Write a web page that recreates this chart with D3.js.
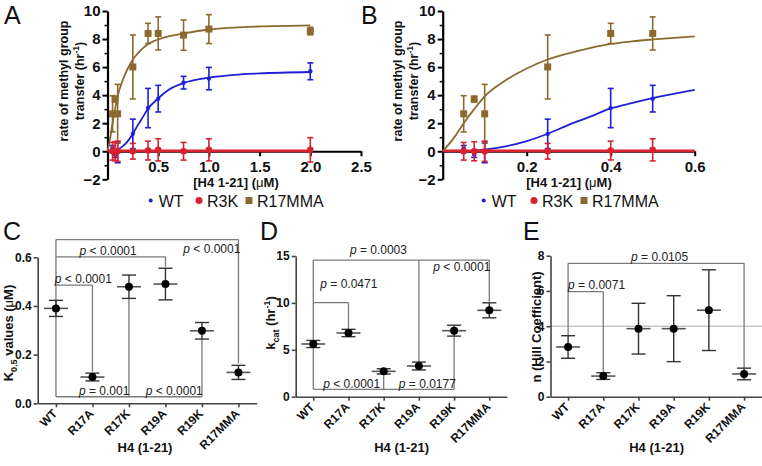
<!DOCTYPE html>
<html><head><meta charset="utf-8">
<script src="https://cdn.jsdelivr.net/npm/d3@7"></script>
<style>
body{margin:0;background:#fff}
svg{display:block;font-family:"Liberation Sans",Arial,Helvetica,sans-serif}
</style>
</head><body>
<svg id="chart" width="762" height="466"></svg>
<script>
// ---------- data: panels A & B ----------
const conc = [0.05, 0.075, 0.1, 0.25, 0.4, 0.5, 0.75, 1.0, 2.0];
const wtRate = [0.21, -0.24, -0.07, 1.24, 3.08, 3.75, 4.89, 5.18, 5.7];
const wtSem = [0.2, 0.2, 0.75, 1.05, 1.4, 0.95, 0.45, 0.8, 0.6];
const r3kRate = [0, 0, 0, 0, 0.05, 0.1, 0, 0.1, 0.1];
const r3kSem = [0.63, 0.68, 0.72, 0.56, 0.67, 0.79, 0.63, 0.79, 0.87];
const mmaRate = [2.67, 3.72, 2.67, 6.01, 8.4, 8.4, 8.28, 8.71, 8.57];
const mmaSem = [1.29, 0.21, 2.1, 2.28, 0.72, 1.18, 1.08, 1.03, 0.27];

// fitted curves
const fitX = [0, 0.025, 0.05, 0.075, 0.1, 0.15, 0.2, 0.25, 0.3, 0.35, 0.4, 0.45, 0.5, 0.6, 0.75, 1.0, 1.25, 1.5, 2.0];
const wtFit = [0, 0, 0.02, 0.05, 0.12, 0.35, 0.72, 1.25, 1.88, 2.45, 3.05, 3.43, 3.78, 4.37, 4.87, 5.25, 5.45, 5.55, 5.65];
const mmaFit = [0, 0.88, 2.0, 3.0, 3.92, 5.06, 5.9, 6.54, 6.98, 7.35, 7.65, 7.83, 7.97, 8.19, 8.4, 8.68, 8.82, 8.9, 8.98];
const r3kFit = [0.03, 0.03, 0.03, 0.03, 0.03, 0.03, 0.03, 0.03, 0.03, 0.03, 0.03, 0.03, 0.03, 0.03, 0.03, 0.03, 0.03, 0.03, 0.03];

const seriesNames = ["WT", "R3K", "R17MMA"];
const seriesColors = ["#1f1fd6", "#d8222f", "#8c6a2f"];

// ---------- data: panels C, D, E ----------
const cats = ["WT", "R17A", "R17K", "R19A", "R19K", "R17MMA"];
const k05 = [0.39, 0.108, 0.479, 0.49, 0.298, 0.127];
const k05Err = [0.033, 0.016, 0.048, 0.065, 0.034, 0.029];
const kcat = [5.62, 6.79, 2.7, 3.27, 7.04, 9.21];
const kcatErr = [0.38, 0.39, 0.28, 0.42, 0.58, 0.8];
const hill = [2.82, 1.17, 3.86, 3.86, 4.91, 1.29];
const hillErr = [0.64, 0.19, 1.44, 1.87, 2.29, 0.33];

// significance brackets: [catIdx1, value1, catIdx2, value2]
const bracketsC = [[0,0.673,5,0.673],[5,0.673,5,0.164],[0,0.673,0,0.027],[0,0.602,3,0.602],[3,0.602,3,0.561],
  [0,0.486,1,0.486],[1,0.486,1,0.13],[0,0.027,4,0.027],[2,0.027,2,0.431],[4,0.027,4,0.264]];
const labelsC = [[4.27,0.618,"< 0.0001"],[1.43,0.611,"< 0.0001"],[0.75,0.495,"< 0.0001"],[1.32,0.036,"= 0.001"],[3.24,0.036,"< 0.0001"]];
const bracketsD = [[0,14.57,5,14.57],[5,14.57,5,10.13],[0,14.57,0,6.04],[3,14.57,3,3.62],[0,10.02,1,10.02],[1,10.02,1,7.19],
  [0,0.79,4,0.79],[0,0.79,0,5.24],[2,0.79,2,2.42],[4,0.79,4,6.46]];
const labelsD = [[1.85,15.26,"= 0.0003"],[4.22,13.35,"< 0.0001"],[1.01,11.6,"= 0.0471"],[1.09,0.98,"< 0.0001"],[3.24,0.98,"= 0.0177"]];
const bracketsE = [[0,7.57,5,7.57],[5,7.57,5,1.62],[0,7.57,0,3.46],[0,5.96,1,5.96],[1,5.96,1,1.36]];
const labelsE = [[2.6,7.7,"= 0.0105"],[0.81,6.11,"= 0.0071"]];
const hillRef = [4];

// ---------- drawing ----------
const svg = d3.select("#chart");

function panelLetter(t, x, y) {
  svg.append("text").attr("x", x).attr("y", y).attr("font-size", 25).attr("fill", "#111").text(t);
}

function kinetics(cfg) {
  const g = svg.append("g");
  const x = d3.scaleLinear().domain([0, cfg.xmax]).range(cfg.xr);
  const y = d3.scaleLinear().domain([-2, 10]).range([179.3, 11]);

  g.append("g").attr("transform", `translate(${cfg.xr[0]},0)`)
    .call(d3.axisLeft(y).tickValues([-1,1,3,5,7,9]).tickSize(3).tickFormat(""))
    .call(a => a.select(".domain").remove())
    .call(a => a.selectAll("line").attr("stroke", "#000").attr("stroke-width", 1.5));
  g.append("g").attr("transform", `translate(${cfg.xr[0]},0)`)
    .call(d3.axisLeft(y).tickValues([-2,0,2,4,6,8,10]).tickSize(5).tickSizeOuter(0).tickPadding(2).tickFormat(d3.format("d")))
    .call(a => a.select(".domain").attr("stroke", "#000").attr("stroke-width", 2.2))
    .call(a => a.selectAll("line").attr("stroke", "#000").attr("stroke-width", 2))
    .call(a => a.selectAll("text").attr("font-size", 15).attr("font-weight", "bold").attr("fill", "#111"));
  g.append("g").attr("transform", `translate(0,${y(0)})`)
    .call(d3.axisBottom(x).tickValues(cfg.xticks).tickSize(5).tickSizeOuter(0).tickPadding(5).tickFormat(d3.format(".1f")))
    .call(a => a.select(".domain").attr("stroke", "#000").attr("stroke-width", 2.2))
    .call(a => a.selectAll("line").attr("stroke", "#000").attr("stroke-width", 2))
    .call(a => a.selectAll("text").attr("font-size", 15).attr("font-weight", "bold").attr("fill", "#111"));

  const fits = [wtFit, r3kFit, mmaFit];
  const rates = [wtRate, r3kRate, mmaRate];
  const sems = [wtSem, r3kSem, mmaSem];
  const order = [2, 0, 1];
  const line = d3.line().x(d => x(d[0])).y(d => y(d[1])).curve(d3.curveMonotoneX);
  order.forEach(s => {
    const col = seriesColors[s];
    const pts = conc.map((c, i) => [c, rates[s][i], sems[s][i]]).filter(d => d[0] <= cfg.xmax);
    const eb = g.append("g").attr("stroke", col).attr("stroke-width", 1.6).attr("fill", "none");
    pts.forEach(d => {
      const px = x(d[0]), y1 = y(d[1] + d[2]), y2 = y(d[1] - d[2]);
      eb.append("line").attr("x1", px).attr("x2", px).attr("y1", y1).attr("y2", y2);
      eb.append("line").attr("x1", px - 3).attr("x2", px + 3).attr("y1", y1).attr("y2", y1);
      eb.append("line").attr("x1", px - 3).attr("x2", px + 3).attr("y1", y2).attr("y2", y2);
    });
    const fd = fitX.map((v, i) => [v, fits[s][i]]).filter(d => d[0] <= cfg.xmax + 1e-9);
    g.append("path").datum(fd).attr("d", line).attr("fill", "none").attr("stroke", col)
      .attr("stroke-width", s === 1 ? 2.6 : 1.8);
    pts.forEach(d => {
      if (s === 2) g.append("rect").attr("x", x(d[0]) - 3.5).attr("y", y(d[1]) - 3.5).attr("width", 7).attr("height", 7).attr("fill", col);
      else g.append("circle").attr("cx", x(d[0])).attr("cy", y(d[1])).attr("r", s === 0 ? 2.2 : 3.3).attr("fill", col);
    });
  });

  const yt = g.append("g").attr("font-size", 12.5).attr("font-weight", "bold").attr("fill", "#111").attr("text-anchor", "middle");
  yt.append("text").attr("transform", `translate(${cfg.yt1},81) rotate(-90)`).text("rate of methyl group");
  const t2 = yt.append("text").attr("transform", `translate(${cfg.yt2},81) rotate(-90)`);
  t2.append("tspan").text("transfer (hr");
  t2.append("tspan").attr("font-size", 8.5).attr("dy", -5).text("-1");
  t2.append("tspan").attr("dy", 5).text(")");
  const xt = g.append("text").attr("x", cfg.xtc).attr("y", 187).attr("text-anchor", "middle")
    .attr("font-size", 13).attr("font-weight", "bold").attr("fill", "#111");
  xt.append("tspan").text("[H4 1-21] (");
  xt.append("tspan").attr("font-weight", "normal").text("\u03bc");
  xt.append("tspan").text("M)");

  const lg = g.append("g").attr("font-size", 16).attr("fill", "#111");
  cfg.leg.forEach((lx, s) => {
    const col = seriesColors[s];
    if (s === 2) lg.append("rect").attr("x", lx - 3.5).attr("y", 197).attr("width", 7).attr("height", 7).attr("fill", col);
    else lg.append("circle").attr("cx", lx).attr("cy", 200.5).attr("r", s === 0 ? 2 : 3.5).attr("fill", col);
    lg.append("text").attr("x", lx + 8).attr("y", 207).text(seriesNames[s]);
  });
}

kinetics({xmax: 2.5, xr: [107.5, 361], xticks: [0.5, 1.0, 1.5, 2.0, 2.5], yt1: 68, yt2: 84, xtc: 236, leg: [150.7, 199, 249]});
kinetics({xmax: 0.6, xr: [442.7, 694.7], xticks: [0.2, 0.4, 0.6], yt1: 402, yt2: 418, xtc: 569, leg: [483.7, 534, 584]});

function dotPanel(cfg) {
  const g = svg.append("g");
  const x = d3.scalePoint().domain(cats).range(cfg.xr).padding(0.5);
  const step = x.step();
  const xi = i => cfg.xr[0] + step * (i + 0.5);
  const y = d3.scaleLinear().domain([0, cfg.ymax]).range(cfg.yr);

  if (cfg.ref) cfg.ref.forEach(r => g.append("line").attr("x1", cfg.xr[0]).attr("x2", 762).attr("y1", y(r)).attr("y2", y(r))
    .attr("stroke", "#aaa").attr("stroke-width", 1));

  g.append("g").attr("transform", `translate(${cfg.xr[0]},0)`)
    .call(d3.axisLeft(y).tickValues(cfg.yticks).tickSize(4).tickSizeOuter(0).tickPadding(2).tickFormat(d3.format(cfg.fmt)))
    .call(a => a.select(".domain").attr("stroke", "#444").attr("stroke-width", 1.6))
    .call(a => a.selectAll("line").attr("stroke", "#444").attr("stroke-width", 1.6))
    .call(a => a.selectAll("text").attr("font-size", 12).attr("font-weight", "bold").attr("fill", "#111"));
  g.append("g").attr("transform", `translate(0,${cfg.yr[0]})`)
    .call(d3.axisBottom(x).tickSize(4).tickSizeOuter(0).tickFormat(""))
    .call(a => a.select(".domain").attr("stroke", "#444").attr("stroke-width", 1.6))
    .call(a => a.selectAll("line").attr("stroke", "#444").attr("stroke-width", 1.6));
  cats.forEach(c => {
    g.append("text").attr("transform", `translate(${x(c) + 2},${cfg.yr[0] + 11}) rotate(-45)`)
      .attr("text-anchor", "end").attr("font-size", 12).attr("font-weight", "bold").attr("fill", "#111").text(c);
  });

  const bg = g.append("g").attr("stroke", "#7a7a7a").attr("stroke-width", 1.3);
  cfg.br.forEach(b => bg.append("line").attr("x1", xi(b[0])).attr("y1", y(b[1])).attr("x2", xi(b[2])).attr("y2", y(b[3])));
  const lg = g.append("g").attr("font-size", 12).attr("fill", "#222").attr("text-anchor", "middle");
  cfg.lab.forEach(l => {
    const t = lg.append("text").attr("x", xi(l[0])).attr("y", y(l[1]));
    t.append("tspan").attr("font-style", "italic").text("p");
    t.append("tspan").text(" " + l[2]);
  });

  const dg = g.append("g");
  cats.forEach((c, i) => {
    const px = x(c), v = cfg.vals[i], e = cfg.errs[i];
    dg.append("line").attr("x1", px).attr("x2", px).attr("y1", y(v + e)).attr("y2", y(v - e)).attr("stroke", "#333").attr("stroke-width", 1.4);
    [v + e, v - e].forEach(w => dg.append("line").attr("x1", px - 7).attr("x2", px + 7).attr("y1", y(w)).attr("y2", y(w))
      .attr("stroke", "#333").attr("stroke-width", 1.4));
    dg.append("line").attr("x1", px - 12).attr("x2", px + 12).attr("y1", y(v)).attr("y2", y(v)).attr("stroke", "#555").attr("stroke-width", 1.6);
    dg.append("circle").attr("cx", px).attr("cy", y(v)).attr("r", 4).attr("fill", "#000");
  });

  g.append("text").attr("x", cfg.xtc).attr("y", 452).attr("text-anchor", "middle")
    .attr("font-size", 13).attr("font-weight", "bold").attr("fill", "#111").text("H4 (1-21)");
  const yt = g.append("text").attr("transform", `translate(${cfg.ytx},${cfg.yty}) rotate(-90)`).attr("text-anchor", "middle")
    .attr("font-size", 13).attr("font-weight", "bold").attr("fill", "#111");
  cfg.ytitle(yt);
}

dotPanel({xr: [37.7, 256.7], yr: [403.3, 257.3], ymax: 0.6, yticks: [0, 0.2, 0.4, 0.6], fmt: ".1f",
  vals: k05, errs: k05Err, br: bracketsC, lab: labelsC, xtc: 145, ytx: 12.5, yty: 333,
  ytitle: t => { t.append("tspan").text("K"); t.append("tspan").attr("font-size", 9).attr("dy", 4).text("0.5");
    t.append("tspan").attr("dy", -4).text(" values ("); t.append("tspan").attr("font-weight", "normal").text("\u03bc"); t.append("tspan").text("M)"); }});
dotPanel({xr: [295.7, 506.9], yr: [396.7, 256], ymax: 15, yticks: [0, 5, 10, 15], fmt: "d",
  vals: kcat, errs: kcatErr, br: bracketsD, lab: labelsD, xtc: 401.7, ytx: 274.5, yty: 323,
  ytitle: t => { t.append("tspan").text("k"); t.append("tspan").attr("font-size", 9).attr("dy", 4).text("cat");
    t.append("tspan").attr("dy", -4).text(" (hr"); t.append("tspan").attr("font-size", 9).attr("dy", -5).text("-1"); t.append("tspan").attr("dy", 5).text(")"); }});
dotPanel({xr: [550.5, 761.7], yr: [396.7, 255.7], ymax: 8, yticks: [0, 2, 4, 6, 8], fmt: "d", ref: hillRef,
  vals: hill, errs: hillErr, br: bracketsE, lab: labelsE, xtc: 656.7, ytx: 541, yty: 327,
  ytitle: t => { t.text("n (Hill Coefficient)"); }});

panelLetter("A", 4, 24);
panelLetter("B", 361, 24);
panelLetter("C", 3, 240);
panelLetter("D", 260, 240);
panelLetter("E", 523, 240);
</script>
</body></html>
